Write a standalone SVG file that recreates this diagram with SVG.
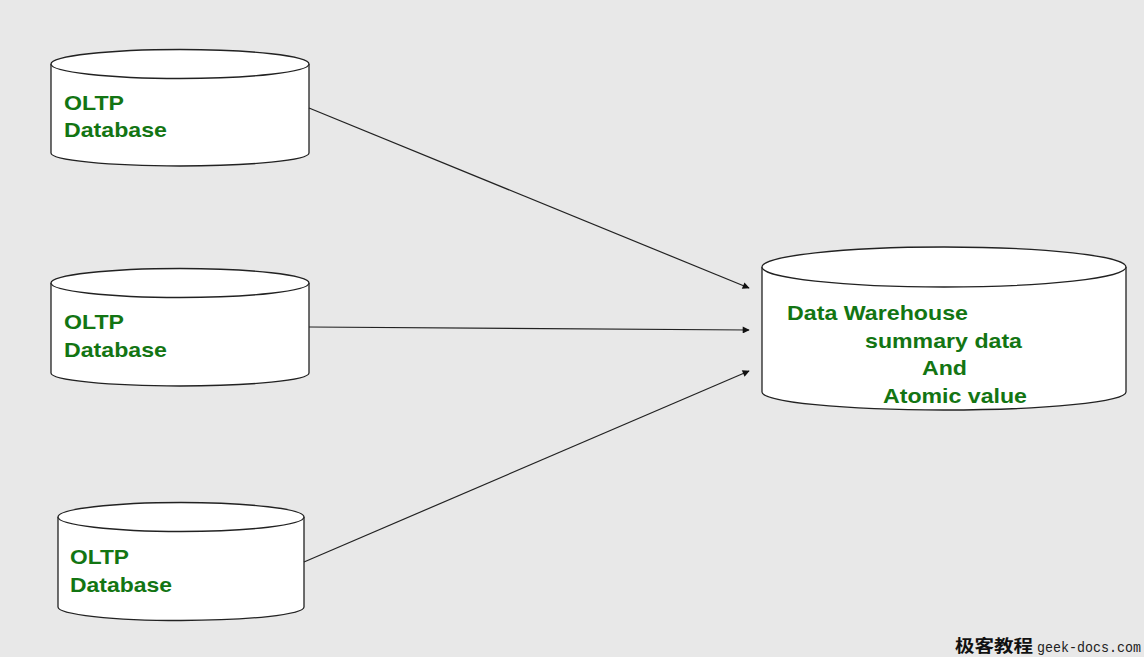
<svg xmlns="http://www.w3.org/2000/svg" width="1144" height="657" viewBox="0 0 1144 657">
<style>
.cyl{fill:#fff;stroke:#222;stroke-width:1.3}
.lbl{font-family:"Liberation Sans",Arial,sans-serif;font-weight:bold;font-size:20.5px;fill:#137513}
.conn{stroke:#222;stroke-width:1.2;fill:none;marker-end:url(#ah)}
</style>
<defs>
<marker id="ah" viewBox="0 0 10 10" refX="9" refY="5" markerWidth="9" markerHeight="7" markerUnits="userSpaceOnUse" orient="auto">
<path d="M0,0 L10,5 L0,10 z" fill="#111"/>
</marker>
</defs>
<rect width="1144" height="657" fill="#e8e8e8"/>
<g id="oltp1">
<path class="cyl" d="M51,64 L51,153 A129,13 0 0 0 309,153 L309,64 A129,14.5 0 0 0 51,64 Z"/>
<path class="cyl" d="M51,64 A129,14.5 0 0 0 309,64" fill="none"/>
<text class="lbl" x="64" y="110" textLength="60" lengthAdjust="spacingAndGlyphs">OLTP</text>
<text class="lbl" x="64" y="137" textLength="103" lengthAdjust="spacingAndGlyphs">Database</text>
</g>
<g id="oltp2">
<path class="cyl" d="M51,283 L51,373 A129,13 0 0 0 309,373 L309,283 A129,14.5 0 0 0 51,283 Z"/>
<path class="cyl" d="M51,283 A129,14.5 0 0 0 309,283" fill="none"/>
<text class="lbl" x="64" y="329" textLength="60" lengthAdjust="spacingAndGlyphs">OLTP</text>
<text class="lbl" x="64" y="357" textLength="103" lengthAdjust="spacingAndGlyphs">Database</text>
</g>
<g id="oltp3">
<path class="cyl" d="M58,517 L58,607 A123,13.5 0 0 0 304,607 L304,517 A123,14.5 0 0 0 58,517 Z"/>
<path class="cyl" d="M58,517 A123,14.5 0 0 0 304,517" fill="none"/>
<text class="lbl" x="70" y="564" textLength="59" lengthAdjust="spacingAndGlyphs">OLTP</text>
<text class="lbl" x="70" y="592" textLength="102" lengthAdjust="spacingAndGlyphs">Database</text>
</g>
<g id="dw">
<path class="cyl" d="M762,267 L762,392 A182,18 0 0 0 1126,392 L1126,267 A182,20 0 0 0 762,267 Z"/>
<path class="cyl" d="M762,267 A182,20 0 0 0 1126,267" fill="none"/>
<text class="lbl" x="787" y="320" textLength="181" lengthAdjust="spacingAndGlyphs">Data Warehouse</text>
<text class="lbl" x="865" y="348" textLength="157" lengthAdjust="spacingAndGlyphs">summary data</text>
<text class="lbl" x="922" y="375" textLength="45" lengthAdjust="spacingAndGlyphs">And</text>
<text class="lbl" x="883" y="403" textLength="144" lengthAdjust="spacingAndGlyphs">Atomic value</text>
</g>
<g id="connectors">
<line class="conn" x1="309" y1="108" x2="749" y2="288"/>
<line class="conn" x1="309" y1="327" x2="749" y2="330"/>
<line class="conn" x1="304" y1="562" x2="749" y2="371"/>
</g>
<g id="watermark">
<text x="955" y="652" font-family="'Noto Sans CJK SC',serif" font-weight="bold" font-size="17px" fill="#111" textLength="78" lengthAdjust="spacingAndGlyphs">极客教程</text>
<text x="1037" y="652" font-family="'Liberation Mono','Courier New',monospace" font-size="14px" fill="#222" textLength="104" lengthAdjust="spacingAndGlyphs">geek-docs.com</text>
</g>
</svg>
